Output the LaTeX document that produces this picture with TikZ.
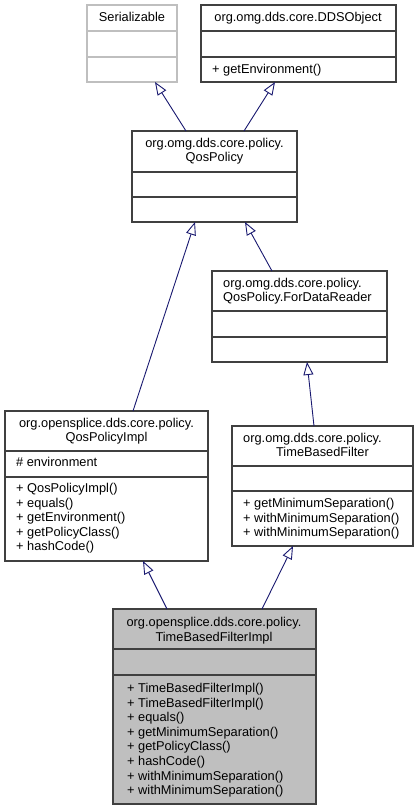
\documentclass[tikz,border=0pt]{standalone}
\usepackage{fontspec}
\setmainfont{Liberation Sans}
\usetikzlibrary{arrows.meta,calc}
\definecolor{edgeblue}{HTML}{191970}
\definecolor{boxdark}{HTML}{404040}
\definecolor{boxlight}{HTML}{BFBFBF}
\definecolor{implfill}{HTML}{BFBFBF}
\newcommand\mlines[3]{\foreach \t [count=\i from 0] in {#3} {\node[txt] at (#1,{#2+14.6*\i}) {\t};}}
\newcommand\clsbox[8]{%
  \node[cls,#8,minimum width={(#4)-(#2)},minimum height={(#5)-(#3)}] (#1) at (#2,#3) {};
  \draw[divline,#8] ($(#1.north west)+(0,#6-#3)$) -- ($(#1.north east)+(0,#6-#3)$);
  \draw[divline,#8] ($(#1.north west)+(0,#7-#3)$) -- ($(#1.north east)+(0,#7-#3)$);
}
\begin{document}
\begin{tikzpicture}[x=1pt,y=-1pt,
  cls/.style={draw=boxdark,line width=1.1pt,inner sep=0,outer sep=0,anchor=north west,fill=white},
  divline/.style={draw=boxdark,line width=1.1pt},
  light/.style={draw=boxlight},
  impl/.style={fill=implfill},
  txt/.style={inner sep=0,anchor=base west,font=\fontsize{12.8}{14.6}\selectfont},
  ctxt/.style={txt,anchor=base},
  inh/.style={draw=edgeblue,line width=0.9pt,-{Triangle[open,length=13pt,width=10pt,line width=0.9pt]}}]
\useasboundingbox (0,0) rectangle (419,809);
\fill[white] (0,0) rectangle (419,809);
% boxes
\clsbox{ser}{87}{5}{177}{82}{31}{57}{light}
\clsbox{dds}{201}{5}{396}{82}{31}{57}{}
\clsbox{qp}{132}{131}{297}{222}{172}{197}{}
\clsbox{fdr}{212}{271}{387}{362}{311}{337}{}
\clsbox{qpi}{5}{411}{208}{561}{451}{477}{}
\clsbox{tbf}{232}{426}{413}{546}{466}{491}{}
\clsbox{tbfi}{113}{609}{316}{804}{649}{675}{impl}
% texts
\node[ctxt] (t-ser) at (132,21.5) {Serializable};
\node[ctxt] (t-dds) at (298,21.5) {org.omg.dds.core.DDSObject};
\mlines{212}{73.5}{+ getEnvironment()}
\node[ctxt] (t-qp1) at (214.5,147.5) {org.omg.dds.core.policy.};
\node[ctxt] (t-qp2) at (214.5,161.5) {QosPolicy};
\node[txt] (t-fdr1) at (223,287.5) {org.omg.dds.core.policy.};
\node[txt] (t-fdr2) at (223,301.5) {QosPolicy.ForDataReader};
\node[ctxt] (t-qpi1) at (106.5,427.5) {org.opensplice.dds.core.policy.};
\node[ctxt] (t-qpi2) at (106.5,441.5) {QosPolicyImpl};
\node[txt] (t-qpi3) at (16,466.5) {\# environment};
\mlines{16}{492.5}{+ QosPolicyImpl(),+ equals(),+ getEnvironment(),+ getPolicyClass(),+ hashCode()}
\node[txt] (t-tbf1) at (243,442.5) {org.omg.dds.core.policy.};
\node[ctxt] (t-tbf2) at (322.5,456.5) {TimeBasedFilter};
\mlines{243}{507.5}{+ getMinimumSeparation(),+ withMinimumSeparation(),+ withMinimumSeparation()}
\node[ctxt] (t-tbfi1) at (214,626.5) {org.opensplice.dds.core.policy.};
\node[ctxt] (t-tbfi2) at (214,641.5) {TimeBasedFilterImpl};
\mlines{127}{692.5}{+ TimeBasedFilterImpl(),+ TimeBasedFilterImpl(),+ equals(),+ getMinimumSeparation(),+ getPolicyClass(),+ hashCode(),+ withMinimumSeparation(),+ withMinimumSeparation()}
% inheritance connectors
\draw[inh] ($(qp.north west)+(54,0)$) -- ($(ser.south west)+(68,0)$);
\draw[inh] ($(qp.north west)+(112,0)$) -- ($(dds.south west)+(74,0)$);
\draw[inh] ($(qpi.north west)+(128,0)$) -- ($(qp.south west)+(63,0)$);
\draw[inh] ($(fdr.north west)+(60,0)$) -- ($(qp.south west)+(113,0)$);
\draw[inh] ($(tbf.north west)+(82,0)$) -- ($(fdr.south west)+(95,0)$);
\draw[inh] ($(tbfi.north west)+(54,0)$) -- ($(qpi.south west)+(138,0)$);
\draw[inh] ($(tbfi.north west)+(149,0)$) -- ($(tbf.south west)+(61,0)$);
\end{tikzpicture}
\end{document}
